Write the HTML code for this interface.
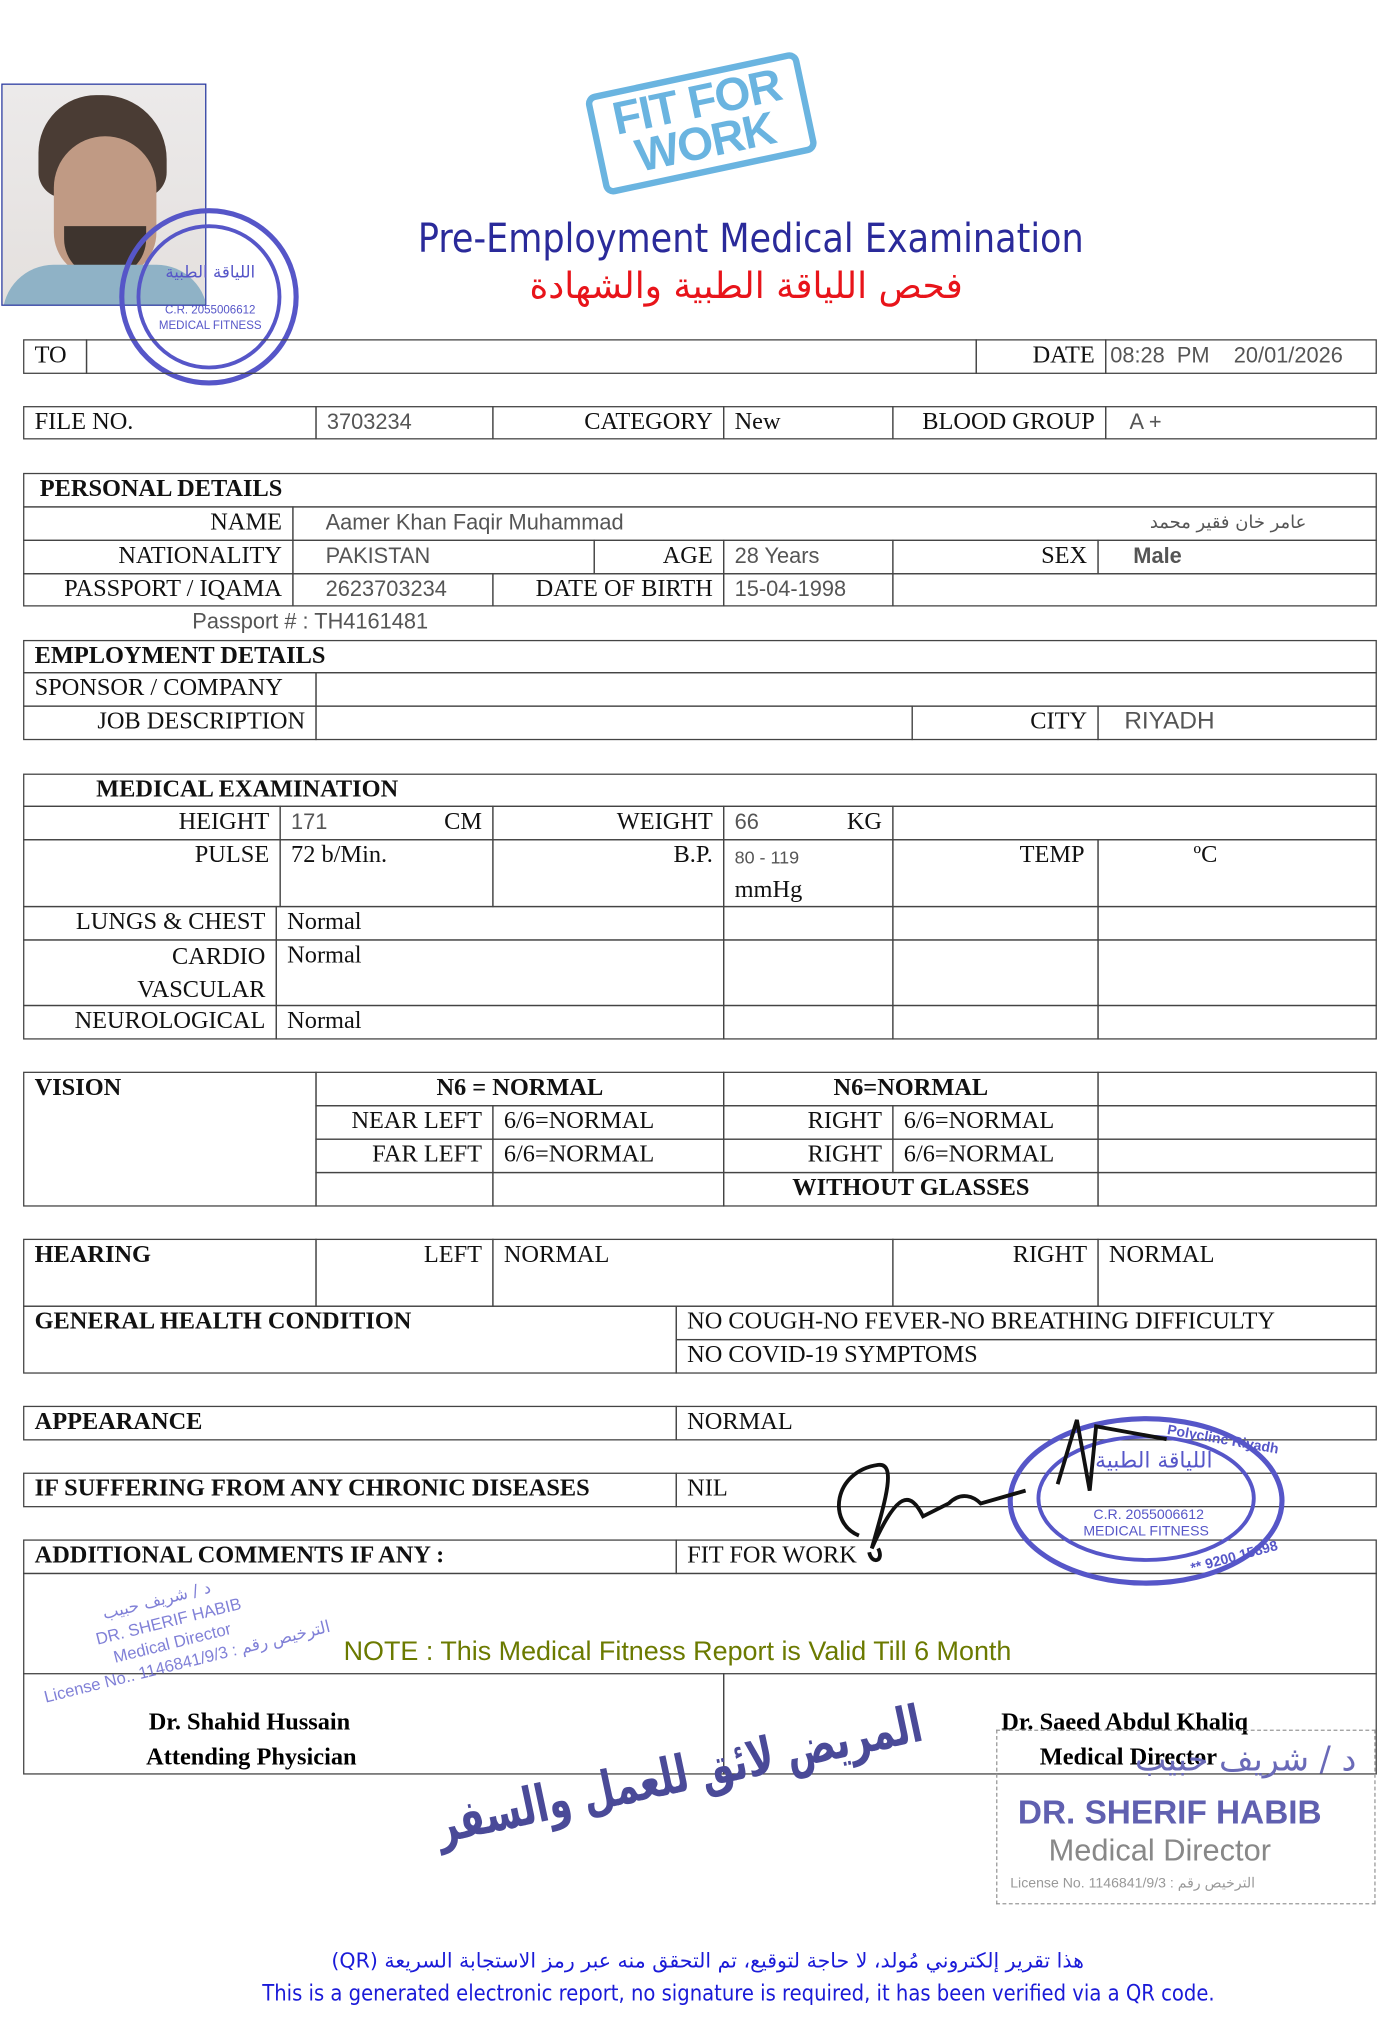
<!DOCTYPE html>
<html><head><meta charset="utf-8">
<style>
html,body{margin:0;padding:0;background:#fff;}
body{width:1400px;height:2008px;overflow:hidden;position:relative;}
#w{position:absolute;left:0;top:0;width:1100px;height:1578px;transform:scale(1.282,1.285);transform-origin:0 0;}
.c{position:absolute;border:1px solid #444;box-sizing:border-box;font-family:"Liberation Serif",serif;font-size:19px;color:#111;line-height:24px;padding:0 8px;white-space:nowrap;overflow:visible;}
.r{text-align:right;}
.v{font-family:"Liberation Sans",sans-serif;color:#555;font-size:17px;}
.b{font-weight:bold;}
.t{position:absolute;white-space:nowrap;}
</style></head><body><div id="w">

<div style="position:absolute;left:1px;top:65px;width:160px;height:173px;border:1px solid #2a3aa0;box-sizing:border-box;background:linear-gradient(#eceaea,#e4e0de);overflow:hidden">
 <div style="position:absolute;left:28px;top:8px;width:100px;height:80px;background:#4a3c34;border-radius:45px 50px 20px 20px"></div>
 <div style="position:absolute;left:40px;top:40px;width:80px;height:110px;background:#c09a84;border-radius:40px 40px 35px 35px"></div>
 <div style="position:absolute;left:48px;top:110px;width:64px;height:40px;background:#3e342e;border-radius:0 0 30px 30px"></div>
 <div style="position:absolute;left:0;top:140px;width:160px;height:40px;background:#8fb2c6;border-radius:50px 50px 0 0"></div>
</div>
<svg class="t" style="left:92px;top:160px" width="145" height="145"><ellipse cx="71" cy="71" rx="68" ry="67" fill="none" stroke="#5656c8" stroke-width="4"/><ellipse cx="71" cy="71" rx="55" ry="55" fill="none" stroke="#5656c8" stroke-width="3"/>
<text x="72" y="56" font-size="13" fill="#5656c8" text-anchor="middle" font-family="DejaVu Sans">اللياقة الطبية</text>
<text x="72" y="84" font-size="9" fill="#5656c8" text-anchor="middle" font-family="Liberation Sans">C.R. 2055006612</text>
<text x="72" y="96" font-size="9" fill="#5656c8" text-anchor="middle" font-family="Liberation Sans">MEDICAL FITNESS</text></svg>

<div class="t" style="left:462px;top:56px;width:160px;height:68px;border:5px solid #6ab4e0;border-radius:8px;transform:rotate(-12deg);color:#6ab4e0;font:bold 36px/32px 'Liberation Sans',sans-serif;text-align:center;padding-top:2px;letter-spacing:-1px">FIT FOR<br>WORK</div>

<div class="t" style="left:326px;top:168px;font:31px 'DejaVu Sans Condensed','Liberation Sans',sans-serif;color:#2a2a9a;transform:scaleX(0.98);transform-origin:0 0">Pre-Employment Medical Examination</div>
<div class="t" style="left:402px;top:206px;font:28px 'DejaVu Sans',sans-serif;color:#e8141a;direction:rtl;width:360px;text-align:center">فحص اللياقة الطبية والشهادة</div>

<div class="c" style="left:18px;top:264px;width:50px;height:27px">TO</div>
<div class="c" style="left:67px;top:264px;width:695px;height:27px"></div>
<div class="c r" style="left:761px;top:264px;width:102px;height:27px">DATE</div>
<div class="c v" style="left:862px;top:264px;width:212px;height:27px;padding-left:3px">08:28 &nbsp;PM &nbsp;&nbsp;&nbsp;20/01/2026</div>

<div class="c" style="left:18px;top:316px;width:229px;height:26px">FILE NO.</div>
<div class="c v" style="left:246px;top:316px;width:139px;height:26px">3703234</div>
<div class="c r" style="left:384px;top:316px;width:181px;height:26px">CATEGORY</div>
<div class="c" style="left:564px;top:316px;width:133px;height:26px">New</div>
<div class="c r" style="left:696px;top:316px;width:167px;height:26px">BLOOD GROUP</div>
<div class="c v" style="left:862px;top:316px;width:212px;height:26px;padding-left:18px">A +</div>

<div class="c b" style="left:18px;top:368px;width:1056px;height:27px;padding-left:12px">PERSONAL DETAILS</div>
<div class="c r" style="left:18px;top:394px;width:211px;height:27px">NAME</div>
<div class="c v" style="left:228px;top:394px;width:846px;height:27px;padding-left:25px">Aamer Khan Faqir Muhammad<span style="position:absolute;right:54px;font-size:14px;font-family:'DejaVu Sans'">عامر خان فقير محمد</span></div>
<div class="c r" style="left:18px;top:420px;width:211px;height:27px">NATIONALITY</div>
<div class="c v" style="left:228px;top:420px;width:236px;height:27px;padding-left:25px">PAKISTAN</div>
<div class="c r" style="left:463px;top:420px;width:102px;height:27px">AGE</div>
<div class="c v" style="left:564px;top:420px;width:133px;height:27px">28 Years</div>
<div class="c r" style="left:696px;top:420px;width:161px;height:27px">SEX</div>
<div class="c v b" style="left:856px;top:420px;width:218px;height:27px;padding-left:27px">Male</div>
<div class="c r" style="left:18px;top:446px;width:211px;height:26px">PASSPORT / IQAMA</div>
<div class="c v" style="left:228px;top:446px;width:157px;height:26px;padding-left:25px">2623703234</div>
<div class="c r" style="left:384px;top:446px;width:181px;height:26px">DATE OF BIRTH</div>
<div class="c v" style="left:564px;top:446px;width:133px;height:26px">15-04-1998</div>
<div class="c" style="left:696px;top:446px;width:378px;height:26px"></div>
<div class="t v" style="left:150px;top:474px;font-family:'Liberation Sans';font-size:17px;color:#555">Passport # : TH4161481</div>

<div class="c b" style="left:18px;top:498px;width:1056px;height:26px">EMPLOYMENT DETAILS</div>
<div class="c" style="left:18px;top:523px;width:229px;height:27px">SPONSOR / COMPANY</div>
<div class="c" style="left:246px;top:523px;width:828px;height:27px"></div>
<div class="c r" style="left:18px;top:549px;width:229px;height:27px">JOB DESCRIPTION</div>
<div class="c" style="left:246px;top:549px;width:466px;height:27px"></div>
<div class="c r" style="left:711px;top:549px;width:146px;height:27px">CITY</div>
<div class="c v" style="left:856px;top:549px;width:218px;height:27px;padding-left:20px;font-size:19px">RIYADH</div>

<div class="c b" style="left:18px;top:602px;width:1056px;height:26px;padding-left:56px">MEDICAL EXAMINATION</div>
<div class="c r" style="left:18px;top:627px;width:201px;height:27px">HEIGHT</div>
<div class="c v" style="left:218px;top:627px;width:167px;height:27px">171<span style="position:absolute;right:8px;font-family:'Liberation Serif';color:#111;font-size:19px">CM</span></div>
<div class="c r" style="left:384px;top:627px;width:181px;height:27px">WEIGHT</div>
<div class="c v" style="left:564px;top:627px;width:133px;height:27px">66<span style="position:absolute;right:8px;font-family:'Liberation Serif';color:#111;font-size:19px">KG</span></div>
<div class="c" style="left:696px;top:627px;width:378px;height:27px"></div>
<div class="c r" style="left:18px;top:653px;width:201px;height:53px">PULSE</div>
<div class="c" style="left:218px;top:653px;width:167px;height:53px">72 b/Min.</div>
<div class="c r" style="left:384px;top:653px;width:181px;height:53px">B.P.</div>
<div class="c" style="left:564px;top:653px;width:133px;height:53px;line-height:26px"><span class="v" style="font-size:14px">80 - 119</span><br>mmHg</div>
<div class="c r" style="left:696px;top:653px;width:161px;height:53px;padding-right:10px">TEMP</div>
<div class="c" style="left:856px;top:653px;width:218px;height:53px;padding-left:74px">ºC</div>
<div class="c r" style="left:18px;top:705px;width:198px;height:27px">LUNGS &amp; CHEST</div>
<div class="c" style="left:215px;top:705px;width:350px;height:27px">Normal</div>
<div class="c" style="left:564px;top:705px;width:133px;height:27px"></div>
<div class="c" style="left:696px;top:705px;width:161px;height:27px"></div>
<div class="c" style="left:856px;top:705px;width:218px;height:27px"></div>
<div class="c r" style="left:18px;top:731px;width:198px;height:52px;line-height:26px">CARDIO<br>VASCULAR</div>
<div class="c" style="left:215px;top:731px;width:350px;height:52px">Normal</div>
<div class="c" style="left:564px;top:731px;width:133px;height:52px"></div>
<div class="c" style="left:696px;top:731px;width:161px;height:52px"></div>
<div class="c" style="left:856px;top:731px;width:218px;height:52px"></div>
<div class="c r" style="left:18px;top:782px;width:198px;height:27px">NEUROLOGICAL</div>
<div class="c" style="left:215px;top:782px;width:350px;height:27px">Normal</div>
<div class="c" style="left:564px;top:782px;width:133px;height:27px"></div>
<div class="c" style="left:696px;top:782px;width:161px;height:27px"></div>
<div class="c" style="left:856px;top:782px;width:218px;height:27px"></div>

<div class="c b" style="left:18px;top:834px;width:229px;height:105px">VISION</div>
<div class="c b" style="left:246px;top:834px;width:319px;height:27px;text-align:center">N6 = NORMAL</div>
<div class="c b" style="left:564px;top:834px;width:293px;height:27px;text-align:center">N6=NORMAL</div>
<div class="c" style="left:856px;top:834px;width:218px;height:27px"></div>
<div class="c r" style="left:246px;top:860px;width:139px;height:27px">NEAR LEFT</div>
<div class="c" style="left:384px;top:860px;width:181px;height:27px">6/6=NORMAL</div>
<div class="c r" style="left:564px;top:860px;width:133px;height:27px">RIGHT</div>
<div class="c" style="left:696px;top:860px;width:161px;height:27px">6/6=NORMAL</div>
<div class="c" style="left:856px;top:860px;width:218px;height:27px"></div>
<div class="c r" style="left:246px;top:886px;width:139px;height:27px">FAR LEFT</div>
<div class="c" style="left:384px;top:886px;width:181px;height:27px">6/6=NORMAL</div>
<div class="c r" style="left:564px;top:886px;width:133px;height:27px">RIGHT</div>
<div class="c" style="left:696px;top:886px;width:161px;height:27px">6/6=NORMAL</div>
<div class="c" style="left:856px;top:886px;width:218px;height:27px"></div>
<div class="c" style="left:246px;top:912px;width:139px;height:27px"></div>
<div class="c" style="left:384px;top:912px;width:181px;height:27px"></div>
<div class="c b" style="left:564px;top:912px;width:293px;height:27px;text-align:center">WITHOUT GLASSES</div>
<div class="c" style="left:856px;top:912px;width:218px;height:27px"></div>

<div class="c b" style="left:18px;top:964px;width:229px;height:53px">HEARING</div>
<div class="c r" style="left:246px;top:964px;width:139px;height:53px">LEFT</div>
<div class="c" style="left:384px;top:964px;width:313px;height:53px">NORMAL</div>
<div class="c r" style="left:696px;top:964px;width:161px;height:53px">RIGHT</div>
<div class="c" style="left:856px;top:964px;width:218px;height:53px">NORMAL</div>
<div class="c b" style="left:18px;top:1016px;width:510px;height:53px">GENERAL HEALTH CONDITION</div>
<div class="c" style="left:527px;top:1016px;width:547px;height:27px">NO COUGH-NO FEVER-NO BREATHING DIFFICULTY</div>
<div class="c" style="left:527px;top:1042px;width:547px;height:27px">NO COVID-19 SYMPTOMS</div>

<div class="c b" style="left:18px;top:1094px;width:510px;height:27px">APPEARANCE</div>
<div class="c" style="left:527px;top:1094px;width:547px;height:27px">NORMAL</div>
<div class="c b" style="left:18px;top:1146px;width:510px;height:27px">IF SUFFERING FROM ANY CHRONIC DISEASES</div>
<div class="c" style="left:527px;top:1146px;width:547px;height:27px">NIL</div>
<div class="c b" style="left:18px;top:1198px;width:510px;height:27px">ADDITIONAL COMMENTS IF ANY :</div>
<div class="c" style="left:527px;top:1198px;width:547px;height:27px">FIT FOR WORK</div>
<div class="c" style="left:18px;top:1224px;width:1056px;height:79px;border-bottom:none"></div>
<div class="c" style="left:18px;top:1302px;width:547px;height:79px"></div>
<div class="c" style="left:564px;top:1302px;width:510px;height:79px"></div>
<div class="t" style="left:268px;top:1274px;font:21px 'Liberation Sans',sans-serif;color:#6b7a00">NOTE : This Medical Fitness Report is Valid Till 6 Month</div>

<div class="t b" style="left:116px;top:1330px;font:bold 19px 'Liberation Serif',serif">Dr. Shahid Hussain</div>
<div class="t b" style="left:114px;top:1357px;font:bold 19px 'Liberation Serif',serif">Attending Physician</div>
<div class="t b" style="left:781px;top:1330px;font:bold 19px 'Liberation Serif',serif">Dr. Saeed Abdul Khaliq</div>
<div class="t b" style="left:811px;top:1357px;font:bold 19px 'Liberation Serif',serif">Medical Director</div>

<div class="t" style="left:20px;top:1262px;color:#6a6ad0;font:13px 'Liberation Sans',sans-serif;transform:rotate(-14deg);transform-origin:0 0;line-height:17px;opacity:.85">
<span style="padding-left:60px;font-family:'DejaVu Sans'">د / شريف حبيب</span><br><span style="padding-left:50px">DR. SHERIF HABIB</span><br><span style="padding-left:60px">Medical Director</span><br><span>License No.. 1146841/9/3 : الترخيص رقم</span></div>

<div class="t" style="left:380px;top:1350px;width:380px;font:bold 40px 'DejaVu Sans Condensed','DejaVu Sans',sans-serif;color:#4a4a98;direction:rtl;transform:rotate(-12deg) scaleX(0.8);text-align:center">المريض لائق للعمل والسفر</div>

<div class="t" style="left:777px;top:1346px;width:294px;height:134px;border:1px dashed #999;color:#7070c0;font-family:'Liberation Sans',sans-serif">
 <div style="position:absolute;right:14px;top:8px;font:26px 'DejaVu Sans';color:#6a6ab8">د / شريف حبيب</div>
 <div style="position:absolute;left:16px;top:48px;font:bold 26px 'Liberation Sans';color:#6060b0">DR. SHERIF HABIB</div>
 <div style="position:absolute;left:40px;top:80px;font:24px 'Liberation Sans';color:#888">Medical Director</div>
 <div style="position:absolute;left:10px;top:112px;font:11px 'Liberation Sans';color:#999">License No. 1146841/9/3 : الترخيص رقم</div>
</div>

<svg class="t" style="left:780px;top:1100px" width="230" height="140"><ellipse cx="114" cy="68" rx="106" ry="64" fill="none" stroke="#5656c8" stroke-width="4"/><ellipse cx="114" cy="66" rx="84" ry="48" fill="none" stroke="#5656c8" stroke-width="3"/>
<text x="120" y="42" font-size="17" fill="#5656c8" text-anchor="middle" font-family="DejaVu Sans">اللياقة الطبية</text>
<text x="116" y="82" font-size="11" fill="#5656c8" text-anchor="middle" font-family="Liberation Sans">C.R. 2055006612</text>
<text x="114" y="95" font-size="11" fill="#5656c8" text-anchor="middle" font-family="Liberation Sans">MEDICAL FITNESS</text>
<text x="130" y="16" font-size="11" fill="#5656c8" font-weight="bold" font-family="Liberation Sans" transform="rotate(10 130 16)">Polyclinc Riyadh</text>
<text x="150" y="124" font-size="11" fill="#5656c8" font-weight="bold" font-family="Liberation Sans" transform="rotate(-15 150 124)">** 9200 15898</text></svg>
<svg class="t" style="left:640px;top:1100px" width="300" height="120"><path d="M30 95 C5 85 10 45 45 40 C60 38 50 70 40 105 C60 60 70 60 80 80 L100 70 C110 60 120 65 125 70 L160 60 M185 55 L200 5 L210 60 L215 10 L270 20 M45 105 C50 115 40 118 38 108" fill="none" stroke="#111" stroke-width="3"/></svg>

<div class="t" style="left:0;top:1516px;width:1104px;text-align:center;font:16px 'DejaVu Sans',sans-serif;color:#1a1ad8;direction:rtl">هذا تقرير إلكتروني مُولد، لا حاجة لتوقيع، تم التحقق منه عبر رمز الاستجابة السريعة (QR)</div>
<div class="t" style="left:0;top:1542px;width:1152px;text-align:center;font:17px 'DejaVu Sans Condensed','Liberation Sans',sans-serif;color:#1a1ad8">This is a generated electronic report, no signature is required, it has been verified via a QR code.</div>
</div></body></html>
